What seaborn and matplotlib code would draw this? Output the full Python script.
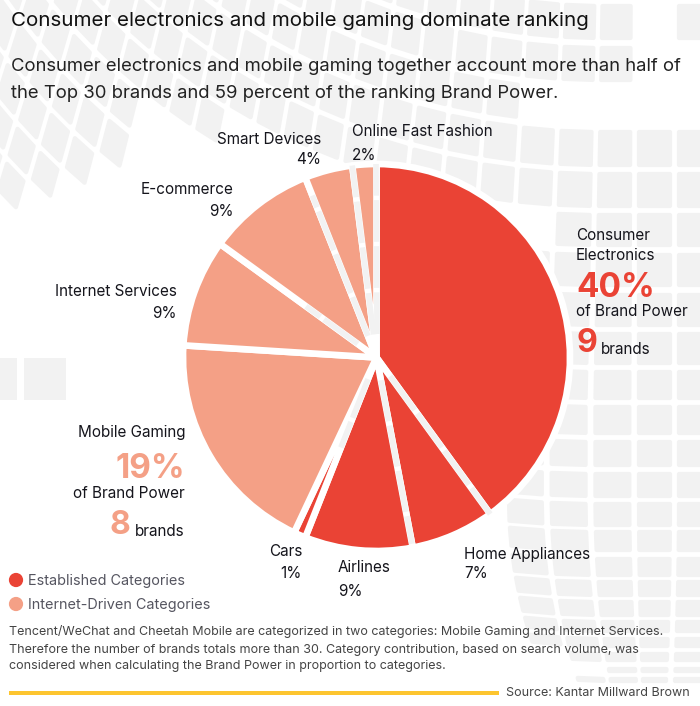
import matplotlib
matplotlib.use('Agg')
import matplotlib.pyplot as plt
from matplotlib.patches import Polygon, Rectangle
import seaborn as sns
import numpy as np

categories = ['Consumer Electronics', 'Home Appliances', 'Airlines', 'Cars', 'Mobile Gaming',
              'Internet Services', 'E-commerce', 'Smart Devices', 'Online Fast Fashion']
brand_power = [40, 7, 9, 1, 19, 9, 9, 4, 2]
groups = ['Established', 'Established', 'Established', 'Established', 'Internet',
          'Internet', 'Internet', 'Internet', 'Internet']
brand_counts = {'Consumer Electronics': 9, 'Mobile Gaming': 8}
legend_labels = ['Established Categories', 'Internet-Driven Categories']

RED = '#ea4335'
SALMON = '#f4a086'
palette = {'Established': RED, 'Internet': SALMON}
CELL = '#f2f2f2'
INK = '#15151c'
W, H = 700, 706

sns.set_theme(style='white')
plt.rcParams['font.family'] = ['Inter', 'DejaVu Sans']

fig = plt.figure(figsize=(W / 100, H / 100), dpi=100)
ax = fig.add_axes([0, 0, 1, 1])


def Y(py):
    return H - py


# background texture, a warped grid of soft grey tiles
row_spans = [(4, 40), (46, 82), (88, 124), (130, 167), (172, 208), (213, 247), (253, 287), (293, 327),
             (332, 365), (370, 400), (405, 435), (440, 467), (472, 498), (502, 527), (530, 552),
             (557, 577), (580, 597), (600, 617), (620, 633), (637, 648), (652, 662), (667, 673), (677, 683)]
col_spans = [(677, 712), (637, 672), (597, 632), (557, 592)]
left = 557
for k in range(3, 26):
    pitch = max(31, 40 - (k - 2))
    col_spans.append((left - pitch, left - 5))
    left -= pitch


def warp(x0, y0):
    y = y0 - 0.8 * max(600 - x0, 0) ** 2 / 1200
    x = x0 - 0.3 * max(637 - x0, 0) / 637 * (min(y, 400) - 200)
    if y > 500:
        x += (y - 500) ** 2 * 1.4e-4 * (1 + max(min(637 - x0, 160), -30) / 16)
    return x, y


def keep_tile(cx, cy, base):
    if np.hypot(cx - 376.5, cy - 357.5) < 150:
        return False
    if base == 106 and cx > 520:
        return False
    if base == 64 and cx > 635:
        return False
    if base == 22 and 637 < cx < 675:
        return False
    if cx < 515:
        tops = [(50, 225), (100, 195), (130, 160), (260, 122), (340, 150), (470, 190), (515, 205)]
        limit = next(t for x, t in tops if cx < x)
        if cy > limit:
            return False
    if 505 < cx < 555 and 205 < cy < 250:
        return False
    edges = [(500, 515), (560, 478), (610, 485), (640, 520), (660, 560), (700, 590)]
    if cy > 205:
        if cx < next(e for y, e in edges if cy < y):
            return False
    return True


for top, bottom in row_spans:
    base = (top + bottom) / 2
    for x1, x2 in col_spans:
        corners = [warp(x1 + 2, top + 2), warp(x2 - 2, top + 2), warp(x2 - 2, bottom - 2), warp(x1 + 2, bottom - 2)]
        cx, cy = np.mean(corners, axis=0)
        if keep_tile(cx, cy, base):
            pts = [(x, Y(y)) for x, y in corners]
            ax.add_patch(Polygon(pts, closed=True, fc=CELL, ec=CELL, lw=3, joinstyle='round', zorder=0))
for x1, x2 in [(-20, 17), (24, 66)]:
    ax.add_patch(Rectangle((x1, Y(400)), x2 - x1, 42, fc=CELL, ec='none', zorder=0))

# the pie itself
cx, cy = 376.5, Y(357.5)
radius = 193.5
wedges, _ = ax.pie(brand_power, colors=[palette[g] for g in groups], startangle=90, counterclock=False,
                   center=(cx, cy), radius=radius,
                   wedgeprops=dict(edgecolor='white', linewidth=4.8, joinstyle='round'))
for w in wedges:
    w.set_zorder(2)

# texture showing through the gaps between slices
through_gaps = [(0.12, 1.0), (0.12, 0.98), (0.12, 0.5), None, None, (0.12, 0.45), (0.12, 0.9), (0.12, 1.0), (0.12, 1.0)]
bounds = np.cumsum(brand_power) / sum(brand_power) * 2 * np.pi
for ang, span in zip(bounds, through_gaps):
    if span is None:
        continue
    xs = [cx + radius * s * np.sin(ang) for s in span]
    ys = [cy + radius * s * np.cos(ang) for s in span]
    ax.plot(xs, ys, color=CELL, lw=4.0, dashes=(7.5, 0.8), solid_capstyle='butt', zorder=3)

# legend dots through seaborn, text set by hand below
sns.scatterplot(x=[16, 16], y=[Y(580), Y(604)], hue=['Established', 'Internet'], palette=palette,
                s=105, linewidth=0, legend=False, ax=ax, zorder=4)

ax.set_xlim(0, W)
ax.set_ylim(0, H)
ax.set_aspect('equal')
ax.set_axis_off()


def label(x, y, s, size=11, ha='left', color=INK, weight='normal'):
    # y is the middle of the capitals, in picture pixels
    base = y + 0.36 * size * 100 / 72
    ax.text(x, Y(base), s, fontsize=size, ha=ha, va='baseline', color=color, fontweight=weight, zorder=5)


pct = dict(zip(categories, brand_power))

label(11, 19, 'Consumer electronics and mobile gaming dominate ranking', size=14.8, color='#111111')
label(11, 64, 'Consumer electronics and mobile gaming together account more than half of', size=13.3, color='#222222')
label(11, 91, 'the Top 30 brands and 59 percent of the ranking Brand Power.', size=13.3, color='#222222')

label(352, 131, 'Online Fast Fashion')
label(352, 154, f"{pct['Online Fast Fashion']}%")
label(321, 138, 'Smart Devices', ha='right')
label(321, 159, f"{pct['Smart Devices']}%", ha='right')
label(234, 188, 'E-commerce', ha='right')
label(234, 210, f"{pct['E-commerce']}%", ha='right')
label(177, 291, 'Internet Services', ha='right')
label(177, 313, f"{pct['Internet Services']}%", ha='right')
label(302, 550, 'Cars', ha='right')
label(302, 572, f"{pct['Cars']}%", ha='right')
label(338, 567, 'Airlines')
label(338, 590, f"{pct['Airlines']}%")
label(464, 553, 'Home Appliances')
label(464, 573, f"{pct['Home Appliances']}%")

label(576, 234, 'Consumer')
label(576, 254, 'Electronics')
label(576, 285, f"{pct['Consumer Electronics']}%", size=24, color=RED, weight='bold')
label(576, 311, 'of Brand Power')
label(576, 341, str(brand_counts['Consumer Electronics']), size=23, color=RED, weight='bold')
label(601, 348, 'brands')

label(185, 432, 'Mobile Gaming', ha='right')
label(185, 466, f"{pct['Mobile Gaming']}%", size=24, ha='right', color=SALMON, weight='bold')
label(185, 493, 'of Brand Power', ha='right')
label(130, 523, str(brand_counts['Mobile Gaming']), size=23, ha='right', color=SALMON, weight='bold')
label(185, 530, 'brands', ha='right')

label(28, 580, legend_labels[0], size=10.4, color='#555560')
label(28, 604, legend_labels[1], size=10.4, color='#555560')

label(9, 631, 'Tencent/WeChat and Cheetah Mobile are categorized in two categories: Mobile Gaming and Internet Services.', size=9, color='#444444')
label(9, 648, 'Therefore the number of brands totals more than 30. Category contribution, based on search volume, was', size=9, color='#444444')
label(9, 664, 'considered when calculating the Brand Power in proportion to categories.', size=9, color='#444444')

ax.add_patch(Rectangle((9, Y(695)), 490, 3.6, fc='#fdc52f', ec='none', zorder=4))
label(690, 692, 'Source: Kantar Millward Brown', size=9, ha='right', color='#444444')

fig.savefig('out.png', dpi=100)
